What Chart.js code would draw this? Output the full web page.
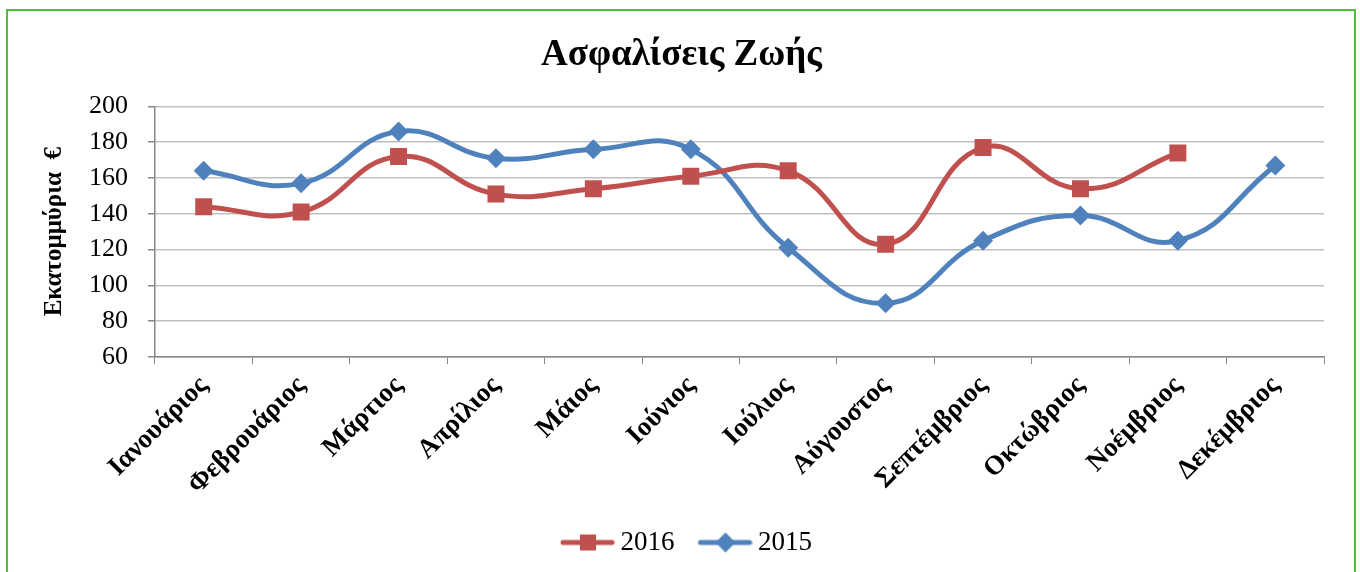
<!DOCTYPE html>
<html>
<head>
<meta charset="utf-8">
<script src="https://cdn.jsdelivr.net/npm/chart.js@4"></script>
<style>
    html, body { margin: 0; padding: 0; background: #ffffff; }
    #wrap { position: relative; width: 1360px; height: 572px; overflow: hidden; }
    #frame {
        position: absolute; left: 6px; top: 9px; width: 1346px; height: 600px;
        border: 2px solid #4fbf3a; pointer-events: none;
    }
    canvas { position: absolute; left: 0; top: 0; }
</style>
</head>
<body>
<div id="wrap">
    <canvas id="lifeChart" width="1360" height="572"></canvas>
    <div id="frame"></div>
</div>
<script>
// ===== DATA =====
const months = ['Ιανουάριος', 'Φεβρουάριος', 'Μάρτιος', 'Απρίλιος', 'Μάιος', 'Ιούνιος',
    'Ιούλιος', 'Αύγουστος', 'Σεπτέμβριος', 'Οκτώβριος', 'Νοέμβριος', 'Δεκέμβριος'];
const values2016 = [144, 141, 172, 151, 154, 161, 164, 123, 177, 154, 174, null];
const values2015 = [164, 157, 186, 171, 176, 176, 121, 90, 125, 139, 125, 167];
const yTicks = [60, 80, 100, 120, 140, 160, 180, 200];

const RED = '#c0504d';
const BLUE = '#4f81bd';
const SERIF = '"Liberation Serif", "Times New Roman", serif';

// Legend icon: line with marker in the middle (drawn in the right part of the canvas
// so that the gap before each legend entry is wider than the gap to its text)
function legendIcon(color, shape) {
    const c = document.createElement('canvas');
    c.width = 72; c.height = 22;
    const g = c.getContext('2d');
    const x0 = 17;
    g.strokeStyle = color;
    g.lineWidth = 5;
    g.lineCap = 'round';
    g.beginPath();
    g.moveTo(x0 + 3, 11); g.lineTo(x0 + 52, 11);
    g.stroke();
    g.fillStyle = color;
    if (shape === 'square') {
        g.fillRect(x0 + 20, 3, 16, 16);
    } else {
        g.beginPath();
        g.moveTo(x0 + 28, 1); g.lineTo(x0 + 38, 11); g.lineTo(x0 + 28, 21); g.lineTo(x0 + 18, 11);
        g.closePath();
        g.fill();
    }
    return c;
}

const icon2016 = legendIcon(RED, 'square');
const icon2015 = legendIcon(BLUE, 'diamond');

function initializeChart() {
    const ctx = document.getElementById('lifeChart');
    if (!ctx) return;

    new Chart(ctx.getContext('2d'), {
        type: 'line',
        data: {
            labels: months,
            datasets: [{
                label: '2016',
                data: values2016,
                borderColor: RED,
                backgroundColor: RED,
                borderWidth: 5,
                tension: 0.45,
                pointStyle: 'rect',
                pointRadius: 12,
                pointHoverRadius: 12,
                pointBorderWidth: 0,
                spanGaps: false
            }, {
                label: '2015',
                data: values2015,
                borderColor: BLUE,
                backgroundColor: BLUE,
                borderWidth: 5,
                tension: 0.45,
                pointStyle: 'rectRot',
                pointRadius: 10,
                pointHoverRadius: 10,
                pointBorderWidth: 0
            }]
        },
        options: {
            responsive: false,
            animation: false,
            layout: { padding: { left: 39, right: 36, top: 0, bottom: 6 } },
            plugins: {
                title: {
                    display: true,
                    text: 'Ασφαλίσεις Ζωής',
                    color: '#000000',
                    font: { family: SERIF, size: 37, weight: 'bold', lineHeight: 1.2 },
                    padding: { top: 33, bottom: 29 }
                },
                legend: {
                    position: 'bottom',
                    labels: {
                        usePointStyle: true,
                        pointStyleWidth: 56,
                        color: '#000000',
                        font: { family: SERIF, size: 27 },
                        padding: 14,
                        generateLabels: function(chart) {
                            return chart.data.datasets.map((ds, i) => ({
                                text: ds.label,
                                pointStyle: i === 0 ? icon2016 : icon2015,
                                fillStyle: ds.borderColor,
                                strokeStyle: ds.borderColor,
                                lineWidth: 0,
                                fontColor: '#000000',
                                datasetIndex: i,
                                hidden: false
                            }));
                        }
                    }
                },
                tooltip: { enabled: false }
            },
            scales: {
                x: {
                    offset: true,
                    grid: {
                        offset: true,
                        drawOnChartArea: false,
                        drawTicks: true,
                        tickLength: 7,
                        color: '#868686'
                    },
                    border: { color: '#868686', width: 1.5 },
                    ticks: {
                        autoSkip: false,
                        minRotation: 45,
                        maxRotation: 45,
                        color: '#000000',
                        padding: 6,
                        font: { family: SERIF, size: 27, weight: 'bold' }
                    },
                    afterFit: function(scale) { scale.height = 158; }
                },
                y: {
                    min: 60,
                    max: 200,
                    afterBuildTicks: function(scale) {
                        scale.ticks = yTicks.map(v => ({ value: v }));
                    },
                    grid: {
                        color: '#bfbfbf',
                        lineWidth: 1.5,
                        tickLength: 7,
                        tickColor: '#868686'
                    },
                    border: { color: '#868686', width: 1.5 },
                    ticks: {
                        color: '#000000',
                        padding: 20,
                        font: { family: SERIF, size: 26 }
                    },
                    title: {
                        display: true,
                        text: 'Εκατομμύρια  €',
                        color: '#000000',
                        font: { family: SERIF, size: 25, weight: 'bold', lineHeight: 1.2 },
                        padding: { top: 1, bottom: 0 }
                    },
                    afterFit: function(scale) { scale.width = 116; }
                }
            }
        }
    });
}

document.addEventListener('DOMContentLoaded', initializeChart);
</script>
</body>
</html>
